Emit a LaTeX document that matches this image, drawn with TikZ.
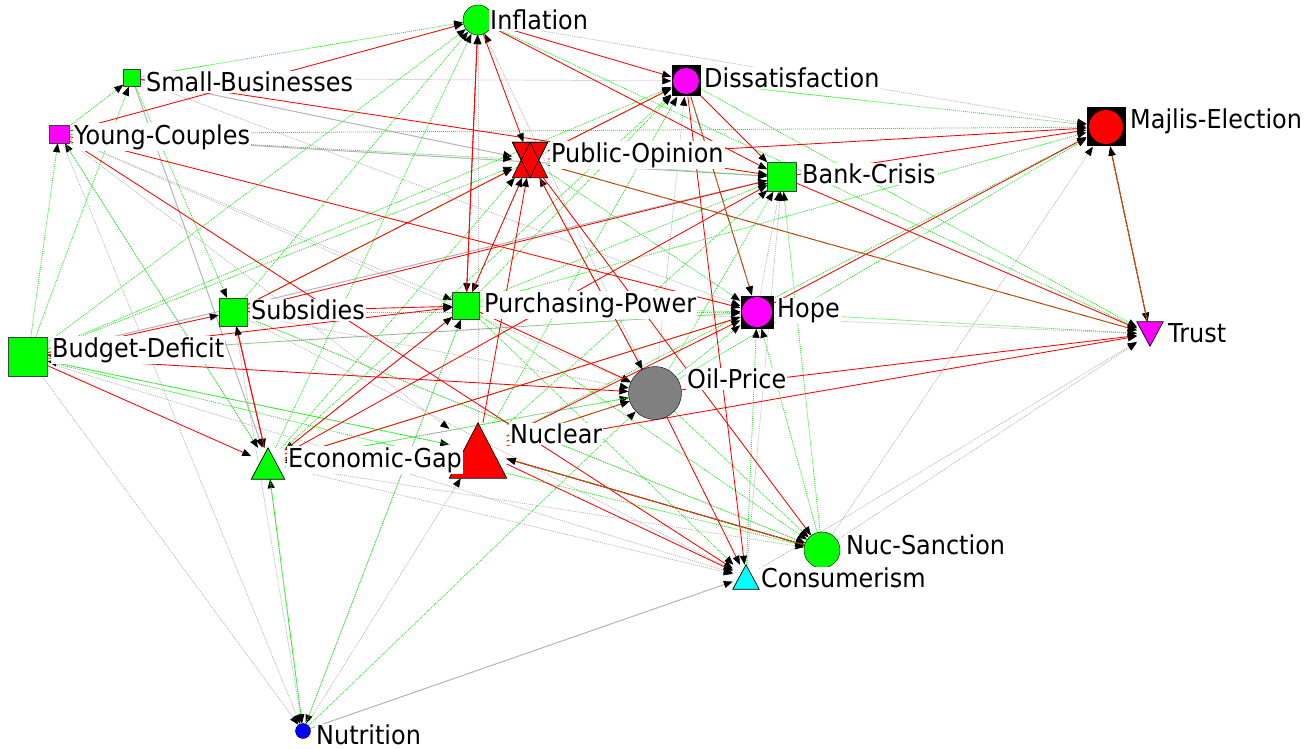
\documentclass[tikz,border=0pt]{standalone}
\usepackage{fontspec}
\newfontfamily\lbfont{DejaVu Sans}[FakeStretch=0.92]
\usetikzlibrary{arrows.meta,backgrounds}
\definecolor{nodegreen}{RGB}{0,255,0}
\definecolor{nodemagenta}{RGB}{255,0,255}
\definecolor{nodecyan}{RGB}{0,255,255}
\definecolor{nodeblue}{RGB}{0,0,255}
\definecolor{nodered}{RGB}{255,0,0}
\definecolor{linkgreen}{RGB}{30,235,30}
\definecolor{oilgray}{RGB}{128,128,128}
\definecolor{linkgray}{RGB}{180,180,180}
\tikzset{
  sq/.style={rectangle, draw=black!75, fill=#1, inner sep=0pt},
  dot/.style={circle, draw=black, fill=#1, inner sep=0pt},
  ringsq/.style 2 args={rectangle, fill=black, inner sep=0pt,
    path picture={\fill[#1] (path picture bounding box.center) circle (#2);}},
  spot/.style={rectangle, inner sep=0pt},
  lbl/.style={fill=white, inner sep=1pt, anchor=west,
    font={\lbfont\fontsize{26}{30}\selectfont}},
  tip/.style={-{Triangle[length=9pt,width=7pt,black]}},
  poslink/.style={tip, draw=nodered, line width=0.85pt},
  neglink/.style={tip, draw=linkgreen, line width=0.8pt, dash pattern=on 1pt off 1pt},
  grylink/.style={tip, draw=linkgray, line width=0.75pt, dash pattern=on 1pt off 1pt},
  grysolid/.style={tip, draw=linkgray, line width=1pt},
  mixlink/.style={tip, draw=nodered, line width=0.9pt,
    postaction={draw=linkgreen, dash pattern=on 1pt off 2pt, line width=0.8pt}}
}

\begin{document}
\begin{tikzpicture}[x=1pt,y=-1pt]
\useasboundingbox (0,0) rectangle (1314,749);

%--- Variables ---
\node[dot=nodegreen, minimum size=30pt]          (inf)   at (478,20)    {};
\node[sq=nodegreen, minimum size=17pt]           (sb)    at (132,78)    {};
\node[sq=nodemagenta, minimum width=20pt, minimum height=18pt] (yc) at (59,134) {};
\node[ringsq={nodemagenta}{13pt}, minimum width=29pt, minimum height=31pt] (dis) at (686,81) {};
\node[spot, minimum size=35pt]                   (po)    at (530,160)   {};
\node[sq=nodegreen, minimum size=29pt]           (bc)    at (782,177)   {};
\node[ringsq={nodered}{17pt}, minimum size=39pt] (me)    at (1106,127)  {};
\node[ringsq={nodemagenta}{15pt}, minimum size=33pt] (hope) at (757,312) {};
\node[spot, minimum width=26pt, minimum height=24pt] (trust) at (1150,334) {};
\node[sq=nodegreen, minimum size=28pt]           (sub)   at (233,312)   {};
\node[sq=nodegreen, minimum size=27pt]           (pp)    at (466,306)   {};
\node[sq=nodegreen, minimum size=39pt]           (bd)    at (28,357)    {};
\node[dot=oilgray, minimum size=53pt]            (oil)   at (655,393)   {};
\node[spot, minimum width=57pt, minimum height=55pt] (nuc) at (478,450.5) {};
\node[spot, minimum width=33pt, minimum height=31pt] (eg)  at (268,463.5) {};
\node[dot=nodegreen, minimum size=36pt]          (ns)    at (822,550)   {};
\node[spot, minimum width=26pt, minimum height=24pt] (cons) at (746,577) {};
\node[dot=nodeblue, minimum size=15pt]           (nut)   at (303,731)   {};

%--- Links (under the variables) ---
\begin{scope}[on background layer]
\fill[white] (0,0) rectangle (1314,749);

% dotted grey links
\foreach \a/\b in {inf/me, sb/dis, yc/pp, yc/oil, yc/nut, bd/nut, bd/cons, eg/ns,
    eg/cons, sub/ns, sub/cons, pp/eg, oil/inf, nuc/inf, oil/dis, ns/me, ns/trust,
    cons/trust, cons/bc, hope/bc, nut/nuc, sub/oil, pp/trust, eg/oil, sb/hope,
    yc/nuc, sub/nut, pp/nut, eg/yc, hope/bd, po/pp, nuc/ns}
  \draw[grylink] (\a) -- (\b);

% solid grey links
\foreach \a/\b in {sb/po, sb/eg, yc/bc, nut/cons, bd/bc}
  \draw[grysolid] (\a) -- (\b);

% dotted green links
\foreach \a/\b in {sb/inf, bd/yc, bd/sb, bd/inf, bd/dis, bd/po, bd/hope, bd/ns, bd/nuc,
    yc/po, yc/sb, yc/eg, yc/me, sb/sub, sub/inf, sub/hope, sub/dis, eg/inf, eg/dis,
    eg/po, pp/dis, pp/hope, pp/me, pp/ns, pp/cons, pp/bc, oil/po, oil/hope, oil/bc,
    oil/me, oil/ns, oil/eg, nuc/eg, nuc/dis, nuc/bc, nuc/me, cons/hope, ns/hope,
    ns/bc, nut/eg, eg/nut, nut/pp, nut/oil, dis/me, dis/trust, inf/trust,
    hope/trust, po/hope, po/bc, hope/eg, sub/ns, nuc/bd}
  \draw[neglink] (\a) -- (\b);

% red links
\foreach \a/\b in {yc/inf, yc/hope, yc/cons, sb/bc, inf/dis, inf/bc, inf/po, inf/pp,
    pp/inf, sub/pp, bd/sub, bd/pp, bd/eg, bd/oil, sub/eg, eg/sub, sub/po, sub/bc,
    eg/pp, eg/hope, eg/bc, nuc/po, pp/po, po/me, bc/me, bc/trust, oil/trust,
    nuc/trust, dis/cons, dis/bc, po/ns, pp/oil, oil/cons, nuc/cons, nuc/hope,
    po/dis, po/oil, hope/me}
  \draw[poslink] (\a) -- (\b);

% red and green links
\foreach \a/\b in {po/trust, me/trust, trust/me, nuc/ns, ns/nuc, dis/hope, nuc/oil}
  \draw[mixlink] (\a) -- (\b);
\end{scope}

%--- Triangle and hourglass shapes ---
\filldraw[fill=nodered, draw=black, line width=0.7pt]
  (po.north west) -- (po.north east) -- (po.south) -- cycle;
\filldraw[fill=nodered, draw=black, line width=0.7pt]
  (po.south west) -- (po.south east) -- (po.north) -- cycle;
\draw[line width=0.7pt] (po.north west) -- (po.north east) -- (po.south) -- cycle;
\filldraw[fill=nodemagenta, draw=black, line width=0.7pt]
  (trust.north west) -- (trust.north east) -- (trust.south) -- cycle;
\filldraw[fill=nodered, draw=black, line width=0.7pt]
  (nuc.south west) -- (nuc.south east) -- (nuc.north) -- cycle;
\filldraw[fill=nodegreen, draw=black, line width=0.7pt]
  (eg.south west) -- (eg.south east) -- (eg.north) -- cycle;
\filldraw[fill=nodecyan, draw=black, line width=0.7pt]
  (cons.south west) -- (cons.south east) -- (cons.north) -- cycle;

%--- Labels ---
\node[lbl] (inf-l)   at (489,20)   {Inflation};
\node[lbl] (sb-l)    at (145,82)   {Small-Businesses};
\node[lbl] (yc-l)    at (73,137)   {Young-Couples};
\node[lbl] (dis-l)   at (703,78)   {Dissatisfaction};
\node[lbl] (po-l)    at (550,155)  {Public-Opinion};
\node[lbl] (bc-l)    at (801,174)  {Bank-Crisis};
\node[lbl] (me-l)    at (1129,121) {Majlis-Election};
\node[lbl] (hope-l)  at (776,311)  {Hope};
\node[lbl] (trust-l) at (1167,333) {Trust};
\node[lbl] (sub-l)   at (250,310)  {Subsidies};
\node[lbl] (pp-l)    at (483,305)  {Purchasing-Power};
\node[lbl] (bd-l)    at (51,350)   {Budget-Deficit};
\node[lbl] (oil-l)   at (686,379)  {Oil-Price};
\node[lbl] (nuc-l)   at (509,434)  {Nuclear};
\node[lbl] (eg-l)    at (287,460)  {Economic-Gap};
\node[lbl] (ns-l)    at (845,545)  {Nuc-Sanction};
\node[lbl] (cons-l)  at (760,578)  {Consumerism};
\node[lbl] (nut-l)   at (315,735)  {Nutrition};

\end{tikzpicture}
\end{document}
